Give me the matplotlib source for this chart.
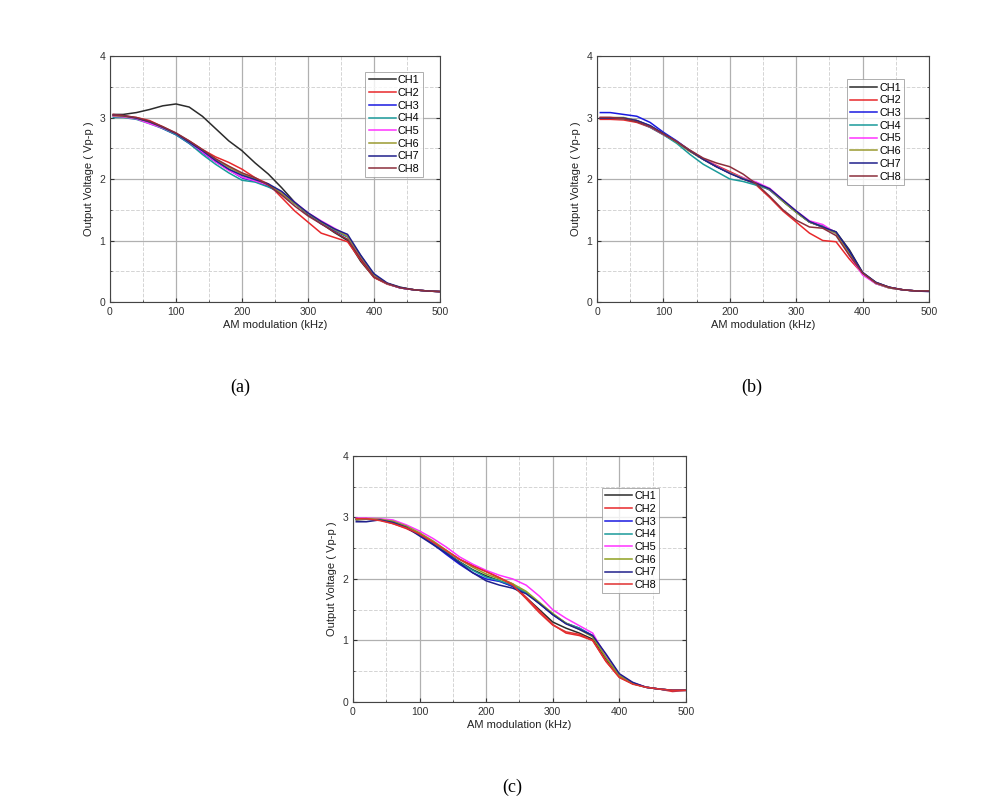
import matplotlib
matplotlib.use("Agg")
import matplotlib.pyplot as plt
from matplotlib.ticker import MultipleLocator

plt.rcParams['font.family'] = ['Liberation Sans', 'DejaVu Sans']

# AM modulation frequency (kHz)
freq = [5, 20, 40, 60, 80, 100, 120, 140, 160, 180, 200, 220, 240,
        260, 280, 300, 320, 340, 360, 380, 400, 420, 440, 460, 480, 500]

channels = ["CH1", "CH2", "CH3", "CH4", "CH5", "CH6", "CH7", "CH8"]

# output voltage (Vp-p), panel (a)
a_ch1 = [3.05, 3.05, 3.08, 3.13, 3.19, 3.22, 3.17, 3.02, 2.82, 2.62, 2.46, 2.26, 2.08, 1.86, 1.62, 1.42, 1.28, 1.13, 1.00, 0.66, 0.40, 0.30, 0.23, 0.20, 0.18, 0.17]
a_ch2 = [3.05, 3.03, 3.00, 2.95, 2.85, 2.74, 2.62, 2.48, 2.36, 2.27, 2.16, 2.02, 1.92, 1.70, 1.48, 1.30, 1.12, 1.05, 0.98, 0.68, 0.40, 0.29, 0.23, 0.20, 0.18, 0.17]
a_ch3 = [3.03, 3.02, 2.98, 2.92, 2.82, 2.72, 2.58, 2.43, 2.28, 2.15, 2.02, 1.96, 1.88, 1.76, 1.60, 1.43, 1.27, 1.16, 1.06, 0.75, 0.44, 0.30, 0.23, 0.20, 0.18, 0.17]
a_ch4 = [3.00, 3.00, 2.97, 2.90, 2.82, 2.72, 2.58, 2.40, 2.24, 2.10, 1.98, 1.95, 1.87, 1.78, 1.60, 1.44, 1.30, 1.18, 1.06, 0.72, 0.42, 0.30, 0.23, 0.20, 0.18, 0.17]
a_ch5 = [3.02, 3.01, 2.98, 2.90, 2.83, 2.74, 2.60, 2.44, 2.28, 2.14, 2.03, 1.97, 1.90, 1.78, 1.62, 1.45, 1.32, 1.20, 1.08, 0.72, 0.43, 0.30, 0.23, 0.20, 0.18, 0.17]
a_ch6 = [3.03, 3.02, 2.99, 2.93, 2.84, 2.74, 2.61, 2.47, 2.32, 2.19, 2.08, 2.00, 1.91, 1.77, 1.60, 1.44, 1.30, 1.18, 1.07, 0.74, 0.44, 0.30, 0.24, 0.20, 0.18, 0.17]
a_ch7 = [3.04, 3.03, 2.99, 2.93, 2.84, 2.74, 2.60, 2.46, 2.30, 2.16, 2.06, 1.99, 1.92, 1.80, 1.62, 1.45, 1.31, 1.19, 1.10, 0.76, 0.46, 0.31, 0.24, 0.20, 0.18, 0.17]
a_ch8 = [3.04, 3.03, 3.00, 2.94, 2.85, 2.75, 2.62, 2.48, 2.33, 2.21, 2.10, 2.02, 1.90, 1.74, 1.56, 1.40, 1.27, 1.14, 1.02, 0.70, 0.41, 0.30, 0.23, 0.20, 0.18, 0.17]

# panel (b)
b_ch1 = [2.98, 2.99, 2.99, 2.95, 2.86, 2.73, 2.60, 2.45, 2.32, 2.20, 2.10, 2.00, 1.92, 1.84, 1.64, 1.46, 1.30, 1.22, 1.14, 0.85, 0.48, 0.32, 0.24, 0.20, 0.18, 0.18]
b_ch2 = [2.97, 2.97, 2.96, 2.92, 2.84, 2.72, 2.60, 2.45, 2.33, 2.22, 2.12, 2.02, 1.90, 1.70, 1.48, 1.30, 1.12, 1.00, 0.98, 0.70, 0.46, 0.30, 0.23, 0.20, 0.18, 0.18]
b_ch3 = [3.08, 3.08, 3.05, 3.02, 2.92, 2.76, 2.62, 2.46, 2.32, 2.20, 2.10, 2.01, 1.93, 1.82, 1.64, 1.47, 1.30, 1.22, 1.12, 0.82, 0.46, 0.31, 0.24, 0.20, 0.18, 0.18]
b_ch4 = [2.99, 2.99, 2.98, 2.94, 2.84, 2.72, 2.58, 2.40, 2.24, 2.12, 2.00, 1.96, 1.90, 1.83, 1.64, 1.46, 1.30, 1.24, 1.12, 0.78, 0.46, 0.30, 0.23, 0.20, 0.18, 0.18]
b_ch5 = [3.00, 3.00, 2.99, 2.94, 2.85, 2.73, 2.61, 2.46, 2.33, 2.21, 2.10, 2.02, 1.95, 1.85, 1.66, 1.48, 1.32, 1.26, 1.12, 0.76, 0.44, 0.30, 0.23, 0.20, 0.18, 0.18]
b_ch6 = [3.00, 3.00, 3.00, 2.95, 2.86, 2.74, 2.60, 2.45, 2.32, 2.20, 2.10, 2.01, 1.93, 1.83, 1.64, 1.46, 1.30, 1.22, 1.12, 0.78, 0.47, 0.31, 0.23, 0.20, 0.18, 0.18]
b_ch7 = [2.99, 2.99, 2.99, 2.95, 2.87, 2.74, 2.61, 2.46, 2.32, 2.20, 2.09, 2.00, 1.93, 1.84, 1.66, 1.48, 1.31, 1.22, 1.14, 0.83, 0.48, 0.32, 0.24, 0.20, 0.18, 0.17]
b_ch8 = [3.00, 3.00, 2.98, 2.93, 2.85, 2.73, 2.61, 2.47, 2.34, 2.26, 2.20, 2.08, 1.92, 1.72, 1.50, 1.33, 1.22, 1.20, 1.08, 0.76, 0.47, 0.31, 0.24, 0.20, 0.18, 0.18]

# panel (c)
c_ch1 = [2.96, 2.97, 2.96, 2.92, 2.84, 2.72, 2.58, 2.43, 2.28, 2.15, 2.05, 1.97, 1.88, 1.70, 1.50, 1.30, 1.20, 1.12, 1.02, 0.70, 0.42, 0.30, 0.24, 0.21, 0.19, 0.19]
c_ch2 = [2.98, 2.98, 2.96, 2.90, 2.82, 2.72, 2.58, 2.46, 2.32, 2.22, 2.12, 2.02, 1.92, 1.70, 1.48, 1.26, 1.12, 1.08, 1.00, 0.66, 0.40, 0.30, 0.24, 0.21, 0.17, 0.19]
c_ch3 = [2.97, 2.98, 2.97, 2.92, 2.84, 2.72, 2.57, 2.40, 2.24, 2.10, 2.00, 1.96, 1.88, 1.78, 1.60, 1.42, 1.28, 1.20, 1.08, 0.76, 0.44, 0.31, 0.24, 0.21, 0.19, 0.19]
c_ch4 = [2.98, 2.98, 2.97, 2.93, 2.86, 2.74, 2.60, 2.43, 2.27, 2.14, 2.03, 1.97, 1.90, 1.78, 1.60, 1.43, 1.28, 1.20, 1.07, 0.74, 0.43, 0.30, 0.24, 0.21, 0.19, 0.19]
c_ch5 = [2.99, 2.99, 2.98, 2.96, 2.88, 2.78, 2.66, 2.52, 2.36, 2.24, 2.14, 2.06, 2.00, 1.90, 1.72, 1.50, 1.36, 1.24, 1.12, 0.74, 0.44, 0.31, 0.24, 0.21, 0.19, 0.19]
c_ch6 = [2.97, 2.98, 2.97, 2.94, 2.86, 2.75, 2.62, 2.47, 2.32, 2.19, 2.08, 2.00, 1.92, 1.80, 1.62, 1.44, 1.28, 1.18, 1.06, 0.72, 0.43, 0.30, 0.24, 0.21, 0.19, 0.19]
c_ch7 = [2.93, 2.93, 2.96, 2.92, 2.84, 2.70, 2.56, 2.42, 2.26, 2.10, 1.97, 1.90, 1.85, 1.76, 1.60, 1.42, 1.27, 1.18, 1.08, 0.78, 0.46, 0.32, 0.24, 0.21, 0.19, 0.19]
c_ch8 = [2.98, 2.98, 2.95, 2.90, 2.83, 2.73, 2.60, 2.46, 2.32, 2.21, 2.12, 2.02, 1.90, 1.68, 1.45, 1.25, 1.14, 1.10, 1.00, 0.66, 0.40, 0.29, 0.24, 0.21, 0.19, 0.19]

colors_ab = ["#2b2b2b", "#e8282b", "#1a1ae0", "#1a9a9a", "#ff33ff", "#9a9a30", "#20208c", "#8b2f3c"]
colors_c = ["#2b2b2b", "#e8282b", "#1a1ae0", "#1a9a9a", "#ff33ff", "#8fa020", "#20208c", "#e03030"]

panels = [
    ([a_ch1, a_ch2, a_ch3, a_ch4, a_ch5, a_ch6, a_ch7, a_ch8], colors_ab,
     [0.1103, 0.6262, 0.331, 0.3045], (0.948, 0.935), "(a)", (0.2407, 0.521)),
    ([b_ch1, b_ch2, b_ch3, b_ch4, b_ch5, b_ch6, b_ch7, b_ch8], colors_ab,
     [0.5988, 0.6262, 0.333, 0.3045], (0.925, 0.905), "(b)", (0.7543, 0.521)),
    ([c_ch1, c_ch2, c_ch3, c_ch4, c_ch5, c_ch6, c_ch7, c_ch8], colors_c,
     [0.354, 0.1312, 0.334, 0.3045], (0.92, 0.87), "(c)", (0.5135, 0.026)),
]

fig = plt.figure(figsize=(9.97, 8.08), dpi=100)

for series, cols, rect, leg_anchor, tag, tag_pos in panels:
    ax = fig.add_axes(rect)
    for name, vals, col in zip(channels, series, cols):
        ax.plot(freq, vals, color=col, lw=1.1, label=name)

    ax.set_xlim(0, 500)
    ax.set_ylim(0, 4)
    ax.xaxis.set_major_locator(MultipleLocator(100))
    ax.xaxis.set_minor_locator(MultipleLocator(50))
    ax.yaxis.set_major_locator(MultipleLocator(1))
    ax.yaxis.set_minor_locator(MultipleLocator(0.5))
    ax.grid(which='major', color='#b0b0b0', lw=0.9, ls='-')
    ax.grid(which='minor', color='#d4d4d4', lw=0.7, ls='--')
    ax.set_axisbelow(True)
    ax.tick_params(which='both', direction='in', right=True, labelsize=7.5, colors='#333333')
    ax.tick_params(which='major', length=3)
    ax.tick_params(which='minor', length=1.5)
    for sp in ax.spines.values():
        sp.set_color('#444444')
        sp.set_linewidth(0.8)

    ax.set_xlabel("AM modulation (kHz)", fontsize=8, color='#222222', labelpad=2)
    ax.set_ylabel("Output Voltage ( Vp-p )", fontsize=8, color='#222222', labelpad=4)

    leg = ax.legend(loc='upper right', bbox_to_anchor=leg_anchor, fontsize=7.8,
                    frameon=True, fancybox=False, edgecolor='#999999',
                    handlelength=2.5, handletextpad=0.2, labelspacing=0.25,
                    borderpad=0.3, borderaxespad=0)
    leg.get_frame().set_linewidth(0.7)

    fig.text(tag_pos[0], tag_pos[1], tag, ha='center', va='center',
             fontsize=13, family=['Liberation Serif', 'DejaVu Serif'])

fig.savefig("out.png", dpi=100)
